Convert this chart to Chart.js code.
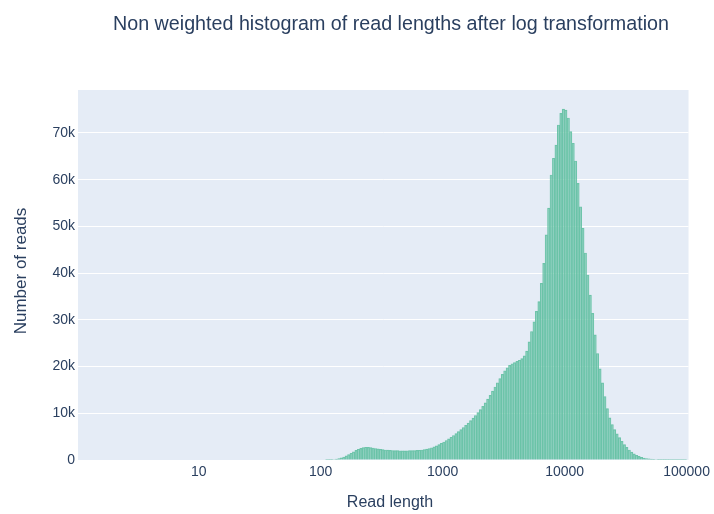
<!DOCTYPE html>
<html>
<head>
<meta charset="utf-8">
<script src="https://cdn.jsdelivr.net/npm/chart.js@4/dist/chart.umd.min.js"></script>
<style>
  html, body { margin: 0; padding: 0; background: #ffffff; }
  #wrap { width: 714px; height: 514px; position: relative; }
</style>
</head>
<body>
<div id="wrap"><canvas id="histChart" width="714" height="514"></canvas></div>
<script>
// histogram bins on log10(read length), 0.02 wide, starting at log10 = 2.00
const binStart = 2.0;
const binWidth = 0.02;

// reads per bin
const readCounts = [
    0, 0, 10, 30, 60, 110, 190, 300, 450, 650,
    880, 1150, 1450, 1750, 2050, 2300, 2500, 2650, 2720, 2700,
    2640, 2560, 2470, 2380, 2290, 2220, 2150, 2100, 2060, 2030,
    2010, 1990, 1980, 1970, 1970, 1980, 1990, 2000, 2020, 2050,
    2090, 2150, 2230, 2330, 2460, 2620, 2810, 3030, 3280, 3550,
    3850, 4170, 4510, 4870, 5250, 5650, 6070, 6500, 6950, 7420,
    7910, 8420, 8960, 9530, 10130, 10780, 11480, 12230, 13020, 13850,
    14730, 15620, 16530, 17450, 18320, 19100, 19750, 20250, 20600, 20850,
    21100, 21350, 21700, 22300, 23300, 25300, 27500, 29600, 31800, 33900,
    37800, 42100, 48200, 53900, 61000, 64600, 67400, 71700, 74200, 75100,
    74900, 73200, 70300, 67800, 64000, 59200, 54200, 49600, 44300, 39600,
    35300, 31400, 26800, 22800, 19500, 16500, 13600, 11000, 9000, 7600,
    6500, 5600, 4800, 4000, 3300, 2700, 2150, 1700, 1320, 1000,
    760, 570, 430, 320, 240, 180, 130, 100, 75, 55,
    40, 30, 22, 16, 11, 8, 5, 3, 2, 1
];

const xTickExponents = [1, 2, 3, 4, 5];
const yTickValues = [0, 10000, 20000, 30000, 40000, 50000, 60000, 70000];

const chartTitle = "Non weighted histogram of read lengths after log transformation";
const xTitle = "Read length";
const yTitle = "Number of reads";

const textColor = "#2a3f5f";
const fontFamily = "'Liberation Sans', Arial, sans-serif";

const points = readCounts.map((c, i) => ({ x: binStart + binWidth * (i + 0.5), y: c }));

const plotBackground = {
    id: "plotBackground",
    beforeDraw(chart) {
        const { ctx, chartArea: a } = chart;
        ctx.save();
        ctx.fillStyle = "#e5ecf6";
        ctx.fillRect(a.left, a.top, a.right - a.left, a.bottom - a.top);
        ctx.restore();
    }
};

const titles = {
    id: "titles",
    afterDraw(chart) {
        const ctx = chart.ctx;
        ctx.save();
        ctx.fillStyle = textColor;
        ctx.textAlign = "center";
        ctx.textBaseline = "middle";
        ctx.font = "19.7px " + fontFamily;
        ctx.fillText(chartTitle, 391, 25);
        ctx.font = "16px " + fontFamily;
        ctx.fillText(xTitle, 390, 503);
        ctx.translate(21, 271);
        ctx.rotate(-Math.PI / 2);
        ctx.font = "17px " + fontFamily;
        ctx.fillText(yTitle, 0, 0);
        ctx.restore();
    }
};

new Chart(document.getElementById("histChart"), {
    type: "bar",
    data: {
        datasets: [{
            label: "reads",
            data: points,
            backgroundColor: "rgba(102, 194, 165, 0.6)",
            borderColor: "rgba(102, 194, 165, 0.9)",
            borderWidth: 0.5,
            barPercentage: 1,
            categoryPercentage: 1
        }]
    },
    options: {
        responsive: false,
        animation: false,
        layout: { padding: { top: 90, right: 24, left: 0, bottom: 0 } },
        plugins: {
            legend: { display: false },
            tooltip: { enabled: false }
        },
        scales: {
            x: {
                type: "linear",
                offset: false,
                min: 0.01,
                max: 5.016,
                afterBuildTicks: (s) => { s.ticks = xTickExponents.map(v => ({ value: v })); },
                afterFit: (s) => { s.height = 54; },
                grid: { display: false, drawTicks: false, offset: false },
                border: { display: false },
                ticks: {
                    padding: 4,
                    color: textColor,
                    font: { family: fontFamily, size: 14 },
                    maxRotation: 0,
                    callback: (v) => String(Math.round(Math.pow(10, v)))
                }
            },
            y: {
                min: 0,
                max: 79200,
                afterBuildTicks: (s) => { s.ticks = yTickValues.map(v => ({ value: v })); },
                afterFit: (s) => { s.width = 78; },
                grid: { color: "#ffffff", lineWidth: 1, drawTicks: false },
                border: { display: false },
                ticks: {
                    padding: 3,
                    color: textColor,
                    font: { family: fontFamily, size: 14 },
                    callback: (v) => v === 0 ? "0" : (v / 1000) + "k"
                }
            }
        }
    },
    plugins: [plotBackground, titles]
});
</script>
</body>
</html>
